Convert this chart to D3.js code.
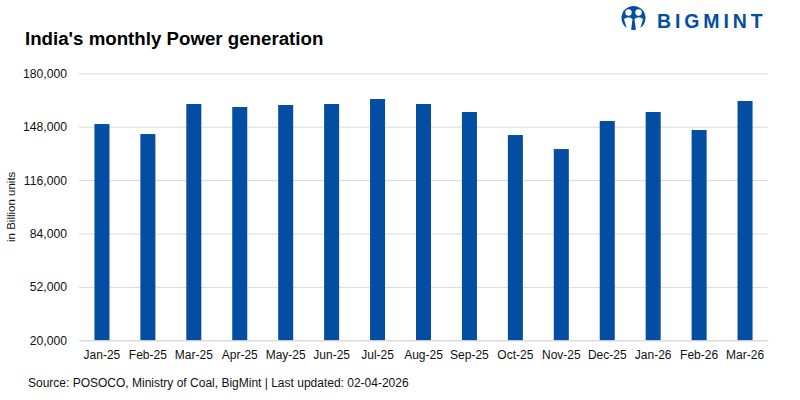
<!DOCTYPE html>
<html><head><meta charset="utf-8">
<script src="https://cdn.jsdelivr.net/npm/d3@7"></script>
<style>body{margin:0;background:#fff}svg{display:block}</style>
</head><body>
<svg id="c" width="800" height="400"></svg>
<script>
const categories = ["Jan-25","Feb-25","Mar-25","Apr-25","May-25","Jun-25","Jul-25","Aug-25","Sep-25","Oct-25","Nov-25","Dec-25","Jan-26","Feb-26","Mar-26"];
const values = [149600,143600,161600,159800,161000,161600,164600,161600,156800,143000,134600,151400,156800,146000,163400];
const yTicks = [20000,52000,84000,116000,148000,180000];
const title = "India's monthly Power generation";
const yLabel = "in Billion units";
const source = "Source: POSOCO, Ministry of Coal, BigMint | Last updated: 02-04-2026";

const svg = d3.select("#c");
const font = "'Liberation Sans', Arial, sans-serif";
const blue = "#034ea2";
const m = {l:79, r:32, t:73.3, b:59.7};
const W = 800, H = 400;
const x = d3.scaleBand().domain(categories).range([m.l, W-m.r]).paddingInner(0.673).paddingOuter(0.336);
const y = d3.scaleLinear().domain([20000,180000]).range([H-m.b, m.t]);

// grid
const yAxis = d3.axisLeft(y).tickValues(yTicks).tickSize(-(W-m.r-m.l)).tickPadding(12).tickFormat(d3.format(","));
const ga = svg.append("g").attr("transform",`translate(${m.l},0)`).call(yAxis);
ga.select(".domain").remove();
ga.selectAll(".tick line").attr("stroke","#d9d9d9").attr("stroke-width",1);
ga.selectAll(".tick text").attr("font-family",font).attr("font-size",12.2).attr("fill","#111").attr("x",-12);

// bars
svg.append("g").selectAll("rect").data(values).join("rect")
  .attr("x",(d,i)=>x(categories[i])).attr("width",x.bandwidth())
  .attr("y",d=>y(d)).attr("height",d=>y(20000)-y(d)).attr("fill",blue);

// x axis
const xAxis = d3.axisBottom(x).tickSize(0).tickPadding(10);
const gx = svg.append("g").attr("transform",`translate(0,${y(20000)})`).call(xAxis);
gx.select(".domain").attr("stroke","#d9d9d9");
gx.selectAll(".tick text").attr("font-family",font).attr("font-size",12).attr("fill","#111");

// title
svg.append("text").attr("x",25).attr("y",45).text(title)
  .attr("font-family",font).attr("font-weight","bold").attr("font-size",18.7).attr("fill","#000");

// y label
svg.append("text").attr("transform",`translate(15,${(y(20000)+y(180000))/2}) rotate(-90)`)
  .attr("text-anchor","middle").text(yLabel).attr("font-family",font).attr("font-size",11.5).attr("fill","#111");

// source
svg.append("text").attr("x",28).attr("y",387).text(source)
  .attr("font-family",font).attr("font-size",12).attr("fill","#111");

// logo
const lg = svg.append("g");
lg.append("circle").attr("cx",633.5).attr("cy",18).attr("r",12).attr("fill",blue);
lg.append("circle").attr("cx",628.5).attr("cy",12.5).attr("r",3.2).attr("fill","#fff");
lg.append("circle").attr("cx",638.5).attr("cy",12.5).attr("r",3.2).attr("fill","#fff");
lg.append("path").attr("d","M624,19 Q628.5,15.5 632.5,19 L631,31 L627.5,31 Z").attr("fill","#fff");
lg.append("path").attr("d","M634.5,19 Q638.5,15.5 643,19 L639.5,31 L636,31 Z").attr("fill","#fff");
lg.append("text").attr("x",657).attr("y",27.5).text("BIGMINT")
  .attr("font-family",font).attr("font-weight","bold").attr("font-size",19.5).attr("fill",blue).attr("letter-spacing","3.9");
</script>
</body></html>
